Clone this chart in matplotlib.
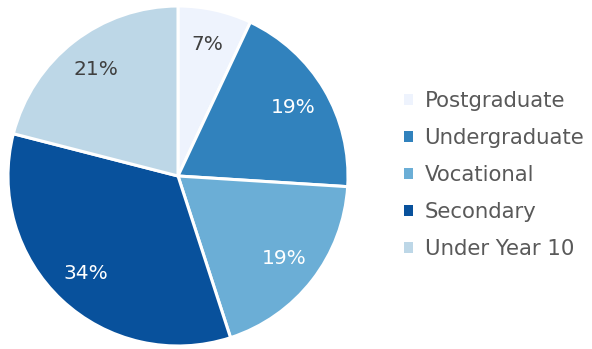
import matplotlib

matplotlib.use("Agg")

import matplotlib.pyplot as plt
from matplotlib.patches import Rectangle

levels = ["Postgraduate", "Undergraduate", "Vocational", "Secondary", "Under Year 10"]
shares = [7, 19, 19, 34, 21]
colors = ["#EEF3FD", "#3182BD", "#6BAED6", "#08519C", "#BDD7E7"]
label_colors = ["#404040", "white", "white", "white", "#404040"]

plt.rcParams["font.family"] = ["DejaVu Sans"]

W, H = 592, 349
fig = plt.figure(figsize=(W / 100, H / 100), dpi=100)

# pie occupies a square area on the left, centre (178, 176) px, radius 170 px
cx, cy, r = 178, 176, 170
ax = fig.add_axes([(cx - r) / W, (H - cy - r) / H, 2 * r / W, 2 * r / H])
wedges, texts, autotexts = ax.pie(
    shares,
    colors=colors,
    startangle=90,
    counterclock=False,
    radius=1.0,
    autopct=lambda p: f"{p:.0f}%",
    pctdistance=0.79,
    wedgeprops={"edgecolor": "white", "linewidth": 2.2},
    textprops={"fontsize": 14.5},
)
for t, c in zip(autotexts, label_colors):
    t.set_color(c)
ax.set_xlim(-1, 1)
ax.set_ylim(-1, 1)
ax.set_aspect("equal")

handles = [Rectangle((0, 0), 1, 1, facecolor=c) for c in colors]
fig.legend(
    handles,
    levels,
    loc="upper left",
    bbox_to_anchor=(404 / W, 1 - 91 / H),
    frameon=False,
    fontsize=15.3,
    labelcolor="#595959",
    handlelength=0.42,
    handleheight=0.42,
    handletextpad=0.55,
    labelspacing=0.8,
    borderaxespad=0,
    borderpad=0,
)

fig.savefig("out.png", dpi=100)
